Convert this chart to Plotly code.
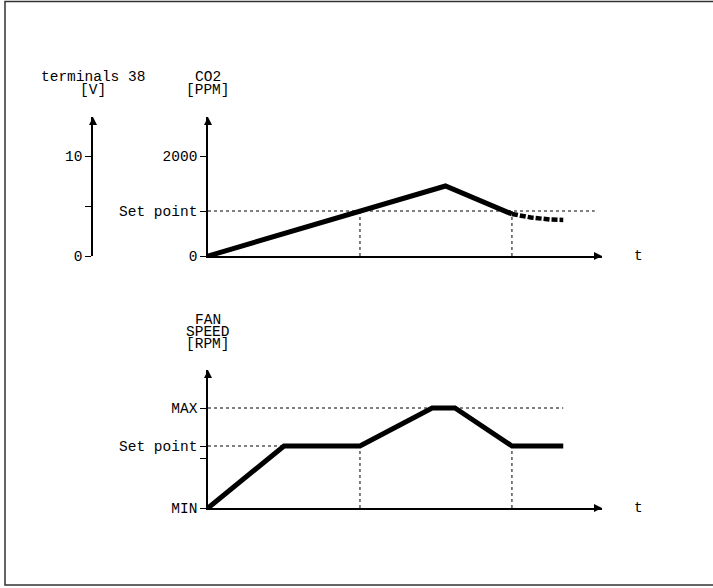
import plotly.graph_objects as go

# time axis (arbitrary units), CO2 in ppm, fan speed in % of range (MIN=0, MAX=100)
co2_t = [0, 62.5, 80]
co2_ppm = [0, 1400, 840]
co2_tail_t = [80, 85, 90, 93.5]
co2_tail_ppm = [840, 770, 730, 720]

fan_t = [0, 20, 40, 59, 65, 80, 93.5]
fan_speed = [0, 62, 62, 100, 100, 62, 62]

co2_set = 900
fan_set = 62
fan_max = 100
event_t = [40, 80]           # dotted markers down to the time axis
co2_set_end = 101.8
fan_max_end = 93.5

co2_ticks = [0, co2_set, 2000]
co2_ticktext = ["0", "Set point", "2000"]
volt_ticks = [0, 5, 10]
volt_ticktext = ["0", "", "10"]
fan_ticks = [0, 50, fan_set, fan_max]
fan_ticktext = ["MIN", "", "Set point", "MAX"]

T_END = 103.7
CO2_TOP = 2780
VOLT_TOP = 13.9
FAN_TOP = 138

W, H = 713, 588
FONT = dict(family="Liberation Mono, DejaVu Sans Mono, monospace", size=14.5, color="black")


def px(x):
    return x / W


def py(y):
    return 1 - y / H


fig = go.Figure()

thick = dict(color="black", width=5)
dotted = dict(color="black", width=1, dash="dot")

# --- top panel: CO2 ---
fig.add_trace(go.Scatter(x=[0, co2_set_end], y=[co2_set, co2_set], mode="lines",
                         line=dotted, xaxis="x", yaxis="y"))
for t in event_t:
    fig.add_trace(go.Scatter(x=[t, t], y=[0, co2_set], mode="lines",
                             line=dotted, xaxis="x", yaxis="y"))
fig.add_trace(go.Scatter(x=co2_t, y=co2_ppm, mode="lines", line=thick,
                         xaxis="x", yaxis="y"))
fig.add_trace(go.Scatter(x=co2_tail_t, y=co2_tail_ppm, mode="lines",
                         line=dict(color="black", width=4.5, dash="6px,2px"),
                         xaxis="x", yaxis="y"))

# --- bottom panel: fan speed ---
fig.add_trace(go.Scatter(x=[0, fan_max_end], y=[fan_max, fan_max], mode="lines",
                         line=dotted, xaxis="x2", yaxis="y2"))
fig.add_trace(go.Scatter(x=[0, fan_t[1]], y=[fan_set, fan_set], mode="lines",
                         line=dotted, xaxis="x2", yaxis="y2"))
for t in event_t:
    fig.add_trace(go.Scatter(x=[t, t], y=[0, fan_set], mode="lines",
                             line=dotted, xaxis="x2", yaxis="y2"))
fig.add_trace(go.Scatter(x=fan_t, y=fan_speed, mode="lines", line=thick,
                         xaxis="x2", yaxis="y2"))

# arrow heads at the axis ends
arrow = dict(color="black", size=8, line=dict(width=0))
for xa, ya, top in [("x", "y", CO2_TOP), ("x2", "y2", FAN_TOP)]:
    fig.add_trace(go.Scatter(x=[0], y=[top], mode="markers", cliponaxis=False,
                             marker=dict(symbol="arrow-up", **arrow), xaxis=xa, yaxis=ya))
    fig.add_trace(go.Scatter(x=[T_END], y=[0], mode="markers", cliponaxis=False,
                             marker=dict(symbol="arrow-right", **arrow), xaxis=xa, yaxis=ya))
fig.add_trace(go.Scatter(x=[0], y=[VOLT_TOP], mode="markers", cliponaxis=False,
                         marker=dict(symbol="arrow-up", **arrow), xaxis="x3", yaxis="y3"))

xcommon = dict(range=[0, T_END], domain=[px(208), px(602)], showline=True, linecolor="black",
               linewidth=1.5, showgrid=False, zeroline=False, showticklabels=False, ticks="",
               automargin=False)
ycommon = dict(showline=True, linecolor="black", linewidth=1.5, showgrid=False, zeroline=False,
               ticks="outside", ticklen=6, tickwidth=1.2, tickcolor="black", tickfont=FONT,
               automargin=False)

fig.update_layout(
    template="none",
    width=W, height=H,
    margin=dict(l=0, r=0, t=0, b=0, pad=0),
    paper_bgcolor="white", plot_bgcolor="white",
    showlegend=False, hovermode=False,
    xaxis=dict(anchor="y", **xcommon),
    yaxis=dict(anchor="x", domain=[py(256), py(117)], range=[0, CO2_TOP],
               tickvals=co2_ticks, ticktext=co2_ticktext, **ycommon),
    xaxis2=dict(anchor="y2", **xcommon),
    yaxis2=dict(anchor="x2", domain=[py(508), py(370)], range=[0, FAN_TOP],
                tickvals=fan_ticks, ticktext=fan_ticktext, **ycommon),
    xaxis3=dict(anchor="y3", domain=[px(93), px(95)], range=[0, 1], visible=False,
                automargin=False),
    yaxis3=dict(anchor="x3", domain=[py(256), py(117)], range=[0, VOLT_TOP],
                tickvals=volt_ticks, ticktext=volt_ticktext, **ycommon),
)

labels = [
    ("terminals 38", 93, 77), ("[V]", 93, 90),
    ("CO2", 208, 77), ("[PPM]", 208, 90),
    ("FAN", 208, 320), ("SPEED", 208, 332), ("[RPM]", 208, 344),
    ("t", 638, 256), ("t", 638, 508),
]
for text, x, y in labels:
    fig.add_annotation(text=text, x=px(x), y=py(y), xref="paper", yref="paper",
                       xanchor="center", yanchor="middle", showarrow=False, font=FONT)

fig.add_shape(type="rect", xref="paper", yref="paper",
              x0=px(5), x1=1.05, y0=py(585), y1=py(1.5),
              line=dict(color="#333", width=1.5))

# page has a default body margin; drop it so the figure sits at the window corner
fig.write_html("out.html", config={"displayModeBar": False},
               post_script="document.body.style.margin='0';document.body.style.overflow='hidden';")
